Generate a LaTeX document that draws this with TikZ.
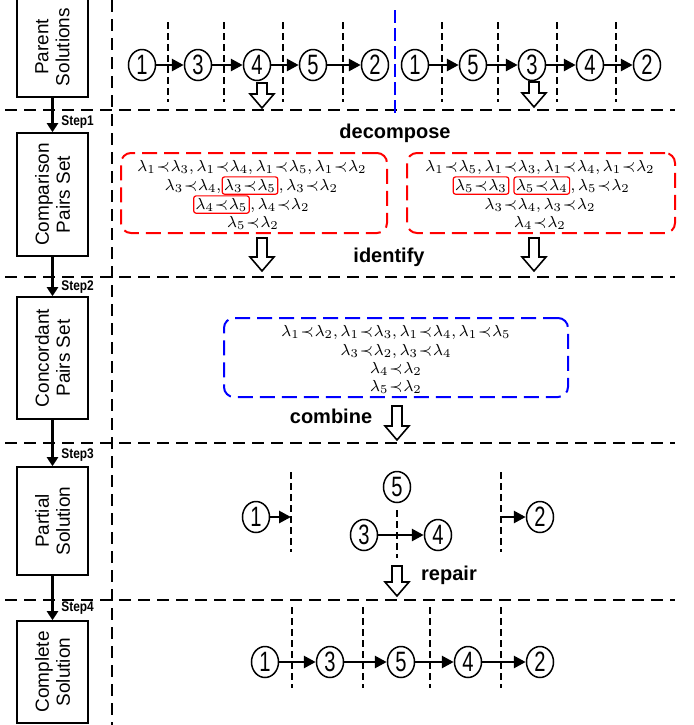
\documentclass[tikz,border=0pt]{standalone}
\usepackage{fontspec}
\usepackage{xcolor}
\usepackage{tikz}
\usetikzlibrary{arrows.meta,shapes.geometric,positioning}

\newfontfamily\boxfont{Liberation Sans}
\newfontfamily\numfont[FakeStretch=0.72]{Liberation Sans}
\newfontfamily\stepfont[FakeStretch=0.85]{Liberation Sans}

\thickmuskip=1mu
\newcommand{\pairlt}[2]{\lambda_{#1} \prec \lambda_{#2}}

\tikzset{
  stage/.style={draw, line width=0.8pt, rotate=90, minimum height=35.5pt, inner sep=0pt,
    align=center, font=\boxfont\fontsize{9.5}{10.5}\selectfont},
  elem/.style={ellipse, draw, line width=0.75pt, minimum width=13.5pt, minimum height=15.5pt,
    inner sep=0pt, font=\numfont\fontsize{14}{14}\selectfont},
  link/.style={line width=1.4pt, -{Triangle[length=6pt,width=6pt]}},
  flow/.style={line width=1.3pt, -{Triangle[length=4.5pt,width=5.5pt]}},
  cut/.style={dash pattern=on 3.5pt off 2pt, line width=0.6pt},
  sep/.style={dash pattern=on 6pt off 3.5pt, line width=0.65pt},
  pairset/.style={draw, rounded corners=5pt, dash pattern=on 7.5pt off 3.5pt, line width=1pt},
  pairtext/.style={inner sep=0pt, font=\fontsize{8}{9.5}\selectfont},
  hlbox/.style={pairtext, draw=red, line width=0.6pt, rounded corners=1.2pt, inner sep=1pt},
  oplabel/.style={font=\boxfont\bfseries\fontsize{10}{12}\selectfont},
  steplabel/.style={anchor=west, inner sep=0pt, font=\stepfont\bfseries\fontsize{7}{8}\selectfont},
  harrow/.pic={\draw[line width=0.8pt, fill=white] (-5,0) -- (5,0) -- (5,#1-14) -- (12,#1-14)
    -- (0,#1) -- (-12,#1-14) -- (-5,#1-14) -- cycle;}
}

\begin{document}
\begin{tikzpicture}[x=0.5pt, y=-0.5pt]
  \useasboundingbox (0,0) rectangle (694,725);
  \clip (0,0) rectangle (694,725);

  % lanes
  \draw[sep] (112,0) -- (112,725);
  \draw[sep] (5,110) -- (675,110);
  \draw[sep] (5,277) -- (675,277);
  \draw[sep] (5,443) -- (675,443);
  \draw[sep] (5,600) -- (675,600);

  % left column
  \node[stage, minimum width=50pt] (parent) at (52.5,47) {Parent\\Solutions};
  \node[stage, minimum width=61.5pt] (comparison) at (52.5,194.5) {Comparison\\Pairs Set};
  \node[stage, minimum width=61pt] (concordant) at (52.5,358) {Concordant\\Pairs Set};
  \node[stage, minimum width=54pt] (partial) at (52.5,521) {Partial\\Solution};
  \node[stage, minimum width=51pt] (complete) at (52.5,672) {Complete\\Solution};
  \draw[flow] (parent) -- (comparison);
  \draw[flow] (comparison) -- (concordant);
  \draw[flow] (concordant) -- (partial);
  \draw[flow] (partial) -- (complete);
  \node[steplabel] (step1) at (61,122) {Step1};
  \node[steplabel] (step2) at (61,287) {Step2};
  \node[steplabel] (step3) at (61,455) {Step3};
  \node[steplabel] (step4) at (61,608) {Step4};

  % parent solutions
  \foreach \x in {168,224,283,343,442,498,557,616}
    \draw[cut] (\x,22) -- (\x,102);
  \draw[blue, dash pattern=on 6.5pt off 2.5pt, line width=0.6pt] (395,10) -- (395,117);
  \node[elem] (a1) at (142,65) {1};
  \node[elem] (a3) at (198,65) {3};
  \node[elem] (a4) at (257,65) {4};
  \node[elem] (a5) at (313,65) {5};
  \node[elem] (a2) at (375,65) {2};
  \node[elem] (b1) at (415,65) {1};
  \node[elem] (b5) at (473,65) {5};
  \node[elem] (b3) at (532,65) {3};
  \node[elem] (b4) at (590,65) {4};
  \node[elem] (b2) at (647,65) {2};
  \draw[link] (a1) -- (a3);
  \draw[link] (a3) -- (a4);
  \draw[link] (a4) -- (a5);
  \draw[link] (a5) -- (a2);
  \draw[link] (b1) -- (b5);
  \draw[link] (b5) -- (b3);
  \draw[link] (b3) -- (b4);
  \draw[link] (b4) -- (b2);
  \pic at (262,83) {harrow=25};
  \pic at (534,82) {harrow=25};

  % comparison pairs
  \node[oplabel] (decompose) at (395,133) {decompose};
  \node[pairset, draw=red, minimum width=133pt, minimum height=40pt] (cmpA) at (254,193) {};
  \node[pairtext, anchor=base] (cmpA1) at (252,171) {$\pairlt13, \pairlt14, \pairlt15, \pairlt12$};
  \node[hlbox, anchor=base] (cmpA2b) at (250,190) {$\pairlt35$};
  \node[pairtext, anchor=base east] (cmpA2a) at (cmpA2b.base west) {$\pairlt34,$};
  \node[pairtext, anchor=base west] (cmpA2c) at (cmpA2b.base east) {$, \pairlt32$};
  \node[hlbox, anchor=base] (cmpA3a) at (221.5,209) {$\pairlt45$};
  \node[pairtext, anchor=base west] (cmpA3b) at (cmpA3a.base east) {$, \pairlt42$};
  \node[pairtext, anchor=base] (cmpA4) at (253,227) {$\pairlt52$};

  \node[pairset, draw=red, minimum width=134pt, minimum height=40pt] (cmpB) at (541,193) {};
  \node[pairtext, anchor=base] (cmpB1) at (540,171) {$\pairlt15, \pairlt13, \pairlt14, \pairlt12$};
  \node[hlbox, anchor=base] (cmpB2a) at (481,190) {$\pairlt53$};
  \node[hlbox, anchor=base west, xshift=2pt] (cmpB2b) at (cmpB2a.base east) {$\pairlt54$};
  \node[pairtext, anchor=base west] (cmpB2c) at (cmpB2b.base east) {$, \pairlt52$};
  \node[pairtext, anchor=base] (cmpB3) at (540,209) {$\pairlt34, \pairlt32$};
  \node[pairtext, anchor=base] (cmpB4) at (540,227) {$\pairlt42$};
  \node[oplabel] (identify) at (389,257) {identify};
  \pic at (262,238) {harrow=33};
  \pic at (534,238) {harrow=33};

  % concordant pairs
  \node[pairset, draw=blue, minimum width=172pt, minimum height=39.5pt] (conc) at (396,357.5) {};
  \node[pairtext, anchor=base] (conc1) at (396,336) {$\pairlt12, \pairlt13, \pairlt14, \pairlt15$};
  \node[pairtext, anchor=base] (conc2) at (396,355) {$\pairlt32, \pairlt34$};
  \node[pairtext, anchor=base] (conc3) at (396,373) {$\pairlt42$};
  \node[pairtext, anchor=base] (conc4) at (396,391) {$\pairlt52$};
  \node[oplabel] (combine) at (331,416) {combine};
  \pic at (397,406) {harrow=34};

  % partial solution
  \draw[cut] (291,472) -- (291,552);
  \draw[cut] (397,510) -- (397,558);
  \draw[cut] (501,472) -- (501,552);
  \node[elem] (q1) at (256,517) {1};
  \node[elem] (q5) at (397,487) {5};
  \node[elem] (q3) at (364,535) {3};
  \node[elem] (q4) at (438,535) {4};
  \node[elem] (q2) at (540,517) {2};
  \coordinate (q1end) at (291,517);
  \coordinate (q2start) at (501,517);
  \draw[link] (q1) -- (q1end);
  \draw[link] (q3) -- (q4);
  \draw[link] (q2start) -- (q2);
  \node[oplabel] (repair) at (449,575) {repair};
  \pic at (397,566) {harrow=30};

  % complete solution
  \foreach \x in {292,363,430,501}
    \draw[cut] (\x,607) -- (\x,688);
  \node[elem] (c1) at (265,662) {1};
  \node[elem] (c3) at (330,662) {3};
  \node[elem] (c5) at (401,662) {5};
  \node[elem] (c4) at (468,662) {4};
  \node[elem] (c2) at (540,662) {2};
  \draw[link] (c1) -- (c3);
  \draw[link] (c3) -- (c5);
  \draw[link] (c5) -- (c4);
  \draw[link] (c4) -- (c2);
\end{tikzpicture}
\end{document}
